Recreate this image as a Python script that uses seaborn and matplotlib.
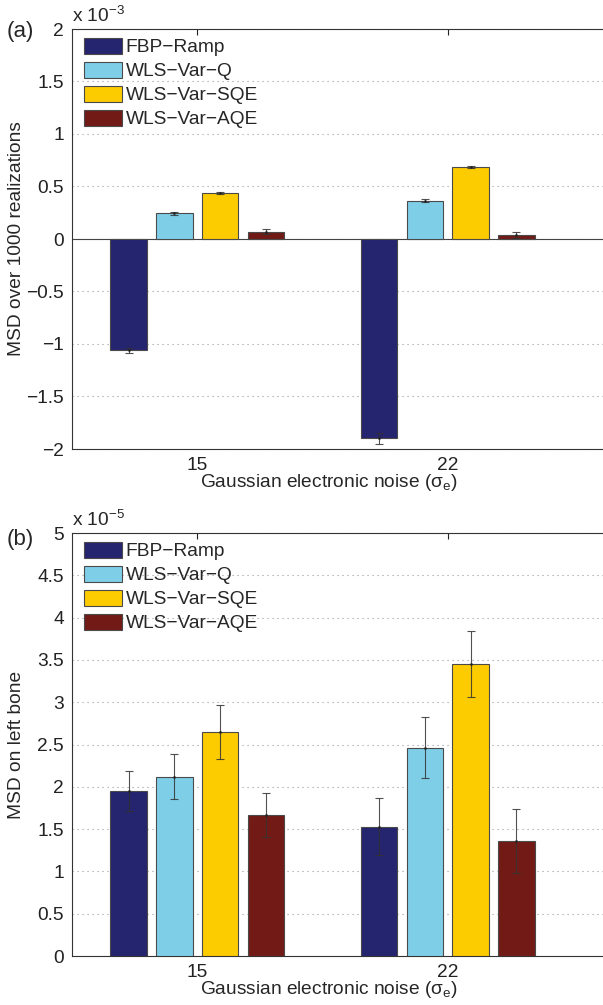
import numpy as np
import pandas as pd
import seaborn as sns
import matplotlib.pyplot as plt
from matplotlib.ticker import FuncFormatter, MultipleLocator

# values
methods = ["FBP−Ramp", "WLS−Var−Q", "WLS−Var−SQE", "WLS−Var−AQE"]
noise = ["15", "22"]
colors = ["#25246e", "#7fcee8", "#fccb00", "#721b16"]

# (a) MSD over 1000 realizations, units of 1e-3
msd_all = {
    "FBP−Ramp":    [-1.06, -1.90],
    "WLS−Var−Q":   [0.245, 0.365],
    "WLS−Var−SQE": [0.435, 0.685],
    "WLS−Var−AQE": [0.07, 0.04],
}
err_all = {
    "FBP−Ramp":    [0.025, 0.05],
    "WLS−Var−Q":   [0.012, 0.012],
    "WLS−Var−SQE": [0.008, 0.01],
    "WLS−Var−AQE": [0.022, 0.028],
}

# (b) MSD on left bone, units of 1e-5
msd_bone = {
    "FBP−Ramp":    [1.95, 1.53],
    "WLS−Var−Q":   [2.12, 2.46],
    "WLS−Var−SQE": [2.65, 3.455],
    "WLS−Var−AQE": [1.665, 1.36],
}
err_bone = {
    "FBP−Ramp":    [0.24, 0.34],
    "WLS−Var−Q":   [0.27, 0.36],
    "WLS−Var−SQE": [0.32, 0.39],
    "WLS−Var−AQE": [0.26, 0.38],
}

sns.set_style("white")
plt.rcParams["font.family"] = ["Liberation Sans", "DejaVu Sans"]
plt.rcParams["mathtext.fontset"] = "custom"
plt.rcParams["mathtext.rm"] = "Liberation Sans"
plt.rcParams["mathtext.default"] = "regular"
FS = 13.8


def to_frame(vals):
    rows = []
    for m in methods:
        for n, v in zip(noise, vals[m]):
            rows.append({"noise": n, "method": m, "msd": v})
    return pd.DataFrame(rows)


def fmt(v, pos):
    return ("%g" % round(v, 3)).replace("-", "−")


def draw_panel(ax, vals, errs, ylim, ylabel, expo):
    df = to_frame(vals)
    sns.barplot(data=df, x="noise", y="msd", hue="method", hue_order=methods,
                palette=colors, width=0.73, gap=0.2, errorbar=None,
                edgecolor="#4a4a4a", linewidth=0.8, saturation=1, ax=ax, zorder=3)
    for cont, m in zip(ax.containers, methods):
        xs = [p.get_x() + p.get_width() / 2 for p in cont.patches]
        ax.errorbar(xs, vals[m], yerr=errs[m], fmt=".", ms=2, color="#222222",
                    ecolor="#333333", elinewidth=0.8, capsize=3, capthick=0.8,
                    alpha=0.85, zorder=4)
    ax.set_xlim(-0.5, 1.62)
    ax.set_ylim(*ylim)
    ax.yaxis.set_major_locator(MultipleLocator(0.5))
    ax.yaxis.set_major_formatter(FuncFormatter(fmt))
    ax.grid(axis="y", linestyle=(0, (1, 3.5)), color="#999999", linewidth=0.8, zorder=0)
    ax.set_axisbelow(True)
    ax.tick_params(axis="both", direction="in", length=4, width=0.8,
                   labelsize=FS, colors="#222222", pad=6, top=True, right=False)
    for s in ["left", "bottom", "top"]:
        ax.spines[s].set_color("#333333")
        ax.spines[s].set_linewidth(0.8)
    ax.spines["right"].set_visible(False)
    ax.set_ylabel(ylabel, fontsize=FS)
    ax.yaxis.set_label_coords(-0.088, 0.5)
    ax.set_xlabel(r"Gaussian electronic noise ($\sigma_e$)", fontsize=FS)
    ax.xaxis.set_label_coords(0.484, -0.055)
    ax.text(0.0, 1.006, r"x 10$^{" + expo + "}$", transform=ax.transAxes,
            ha="left", va="bottom", fontsize=FS)
    sns.move_legend(ax, "upper left", bbox_to_anchor=(0.022, 0.979), title=None,
                    frameon=False, fontsize=FS, handlelength=2.0, handleheight=0.9,
                    labelspacing=0.28, handletextpad=0.2, borderpad=0,
                    borderaxespad=0)


fig = plt.figure(figsize=(6.03, 10.05), dpi=100)
ax1 = fig.add_axes([72 / 603, 1 - 449 / 1005, 531 / 603, 420 / 1005])
ax2 = fig.add_axes([72 / 603, 1 - 956 / 1005, 531 / 603, 423 / 1005])

draw_panel(ax1, msd_all, err_all, (-2, 2), "MSD over 1000 realizations", "−3")
ax1.axhline(0, color="#444444", linewidth=0.8, zorder=2)
draw_panel(ax2, msd_bone, err_bone, (0, 5), "MSD on left bone", "−5")

fig.text(7 / 603, 1 - 32 / 1005, "(a)", ha="left", va="center", fontsize=16)
fig.text(7 / 603, 1 - 540 / 1005, "(b)", ha="left", va="center", fontsize=16)

fig.savefig("out.png", dpi=100)
